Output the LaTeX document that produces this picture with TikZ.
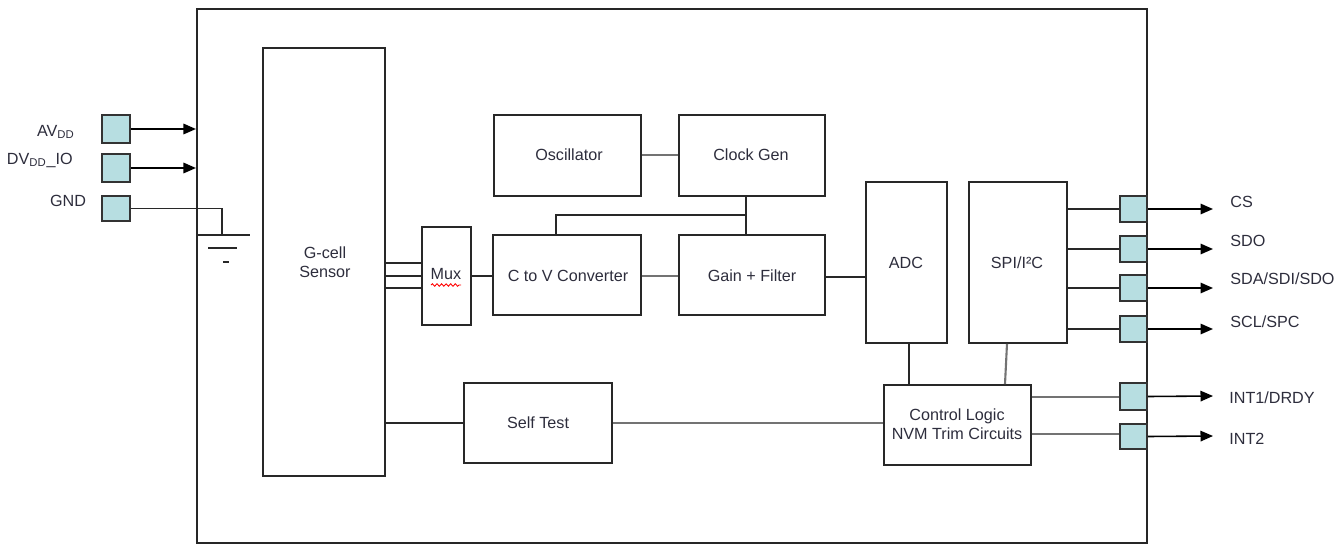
\documentclass[tikz,border=0pt]{standalone}
\usepackage{fontspec}
\setmainfont{Liberation Sans}
\usetikzlibrary{fit,arrows.meta,decorations.pathmorphing}
\definecolor{padfill}{RGB}{183,222,225}
\definecolor{linegray}{RGB}{40,40,40}
\definecolor{txt}{RGB}{45,45,60}
\begin{document}
\begin{tikzpicture}[x={(0.02cm,0)}, y={(0,-0.02cm)},
  every node/.style={font=\fontsize{9.2}{11}\selectfont, text=txt},
  blk/.style={draw=linegray, line width=1pt, inner sep=0pt},
  btxt/.style={align=center, inner sep=0pt},
  chipbox/.style={draw=black!85, line width=1.2pt, inner sep=0pt},
  pad/.style={draw=black!80, fill=padfill, line width=1pt, inner sep=0pt},
  wire/.style={draw=linegray, line width=1pt},
  gwire/.style={draw=black!55, line width=1.2pt},
  sig/.style={draw=black, line width=0.9pt, -{Triangle[length=0.25cm,width=0.21cm]}},
  lbl/.style={anchor=west, inner sep=0pt}]
\useasboundingbox (0,0) rectangle (1343,545);

% chip outline
\node[chipbox, fit={(197,9) (1147,543)}] (chip) {};

% blocks
\node[blk, fit={(263,48) (385,476)}] (gcell) {};
\node[blk, fit={(422,227) (471,325)}] (mux) {};
\node[blk, fit={(494,115) (641,196)}] (osc) {};
\node[blk, fit={(679,115) (825,196)}] (clk) {};
\node[blk, fit={(493,235) (641,315)}] (c2v) {};
\node[blk, fit={(679,235) (825,315)}] (gain) {};
\node[blk, fit={(866,182) (947,343)}] (adc) {};
\node[blk, fit={(969,182) (1067,343)}] (spi) {};
\node[blk, fit={(464,383) (612,463)}] (self) {};
\node[blk, fit={(884,385) (1031,465)}] (ctrl) {};

\node[btxt] (gcellt) at (325,262) {G-cell\\Sensor};
\node[btxt] (muxt) at (446,274) {Mux};
\node[btxt] (osct) at (569,155) {Oscillator};
\node[btxt] (clkt) at (751,155) {Clock Gen};
\node[btxt] (c2vt) at (568,276) {C to V Converter};
\node[btxt] (gaint) at (752,276) {Gain + Filter};
\node[btxt] (adct) at (906,263) {ADC};
\node[btxt] (spit) at (1017,263) {SPI/I²C};
\node[btxt] (selft) at (538,423) {Self Test};
\node[btxt] (ctrlt) at (957,424) {Control Logic\\NVM Trim Circuits};

% left pads
\node[pad, fit={(102,115) (130,143)}] (pavdd) {};
\node[pad, fit={(102,154) (130,182)}] (pdvdd) {};
\node[pad, fit={(102,196) (130,221)}] (pgnd) {};
\node[anchor=east, inner sep=0pt] (lavdd) at (75,132) {AV\textsubscript{DD}};
\node[anchor=east, inner sep=0pt] (ldvdd) at (73,160) {DV\textsubscript{DD}\_IO};
\node[inner sep=0pt] (lgnd) at (68,201) {GND};

\draw[sig] (pavdd.east) -- (pavdd.east -| chip.west);
\draw[sig] (pdvdd.east) -- (pdvdd.east -| chip.west);
\coordinate (gndc) at (222,235);
\draw[wire] (pgnd.east) -| (gndc);
\coordinate (gl) at (197,235);
\coordinate (gr) at (250,235);
\draw[wire] (gl) -- (gr);
\draw[wire] (208,248) -- (237,248);
\draw[wire] (223,262) -- (229,262);

% right pads
\node[pad, fit={(1120,196) (1147,222)}] (pcs) {};
\node[pad, fit={(1120,236) (1147,262)}] (psdo) {};
\node[pad, fit={(1120,275) (1147,301)}] (psda) {};
\node[pad, fit={(1120,316) (1147,342)}] (pscl) {};
\node[pad, fit={(1120,383) (1147,410)}] (pint1) {};
\node[pad, fit={(1120,424) (1147,449)}] (pint2) {};

\node[lbl] (lcs) at (1230,202) {CS};
\node[lbl] (lsdo) at (1230,241) {SDO};
\node[lbl] (lsda) at (1230,279) {SDA/SDI/SDO};
\node[lbl] (lscl) at (1230,322) {SCL/SPC};
\node[lbl] (lint1) at (1229,398) {INT1/DRDY};
\node[lbl] (lint2) at (1229,439) {INT2};

\coordinate (acs) at (1213,209);
\coordinate (asdo) at (1213,249);
\coordinate (asda) at (1213,288);
\coordinate (ascl) at (1213,329);
\coordinate (aint1) at (1213,396);
\coordinate (aint2) at (1213,436);

\draw[wire] (spi.east |- pcs.west) -- (pcs.west);
\draw[wire] (spi.east |- psdo.west) -- (psdo.west);
\draw[wire] (spi.east |- psda.west) -- (psda.west);
\draw[wire] (spi.east |- pscl.west) -- (pscl.west);
\draw[sig] (pcs.east) -- (acs);
\draw[sig] (psdo.east) -- (asdo);
\draw[sig] (psda.east) -- (asda);
\draw[sig] (pscl.east) -- (ascl);
\draw[sig] (pint1.east) -- (aint1);
\draw[sig] (pint2.east) -- (aint2);
\draw[gwire] (ctrl.east |- 0,397) -- (pint1.west |- 0,397);
\draw[gwire] (ctrl.east |- 0,434) -- (pint2.west |- 0,434);

% internal wires
\draw[wire] (gcell.east |- 0,263) -- (mux.west |- 0,263);
\draw[wire] (gcell.east |- 0,276) -- (mux.west |- 0,276);
\draw[wire] (gcell.east |- 0,288) -- (mux.west |- 0,288);
\draw[wire] (mux.east |- 0,276) -- (c2v.west |- 0,276);
\draw[gwire] (c2v.east |- 0,276) -- (gain.west |- 0,276);
\draw[gwire] (osc.east |- 0,155) -- (clk.west |- 0,155);
\draw[wire] (clk.south -| 746,0) -- (gain.north -| 746,0);
\draw[wire] (746,215) -- (556,215) -- (c2v.north -| 556,0);
\draw[wire] (gain.east |- 0,277) -- (adc.west |- 0,277);
\draw[wire] (adc.south -| 909,0) -- (ctrl.north -| 909,0);
\draw[gwire] (spi.south -| 1007,0) -- (ctrl.north -| 1005,0);
\draw[wire] (gcell.east |- 0,423) -- (self.west |- 0,423);
\draw[gwire] (self.east |- 0,423) -- (ctrl.west |- 0,423);

% spell-check squiggle under Mux
\draw[red, line width=0.5pt, decorate, decoration={snake, amplitude=0.7pt, segment length=2.6pt}] (431,285) -- (461,285);
\end{tikzpicture}
\end{document}
